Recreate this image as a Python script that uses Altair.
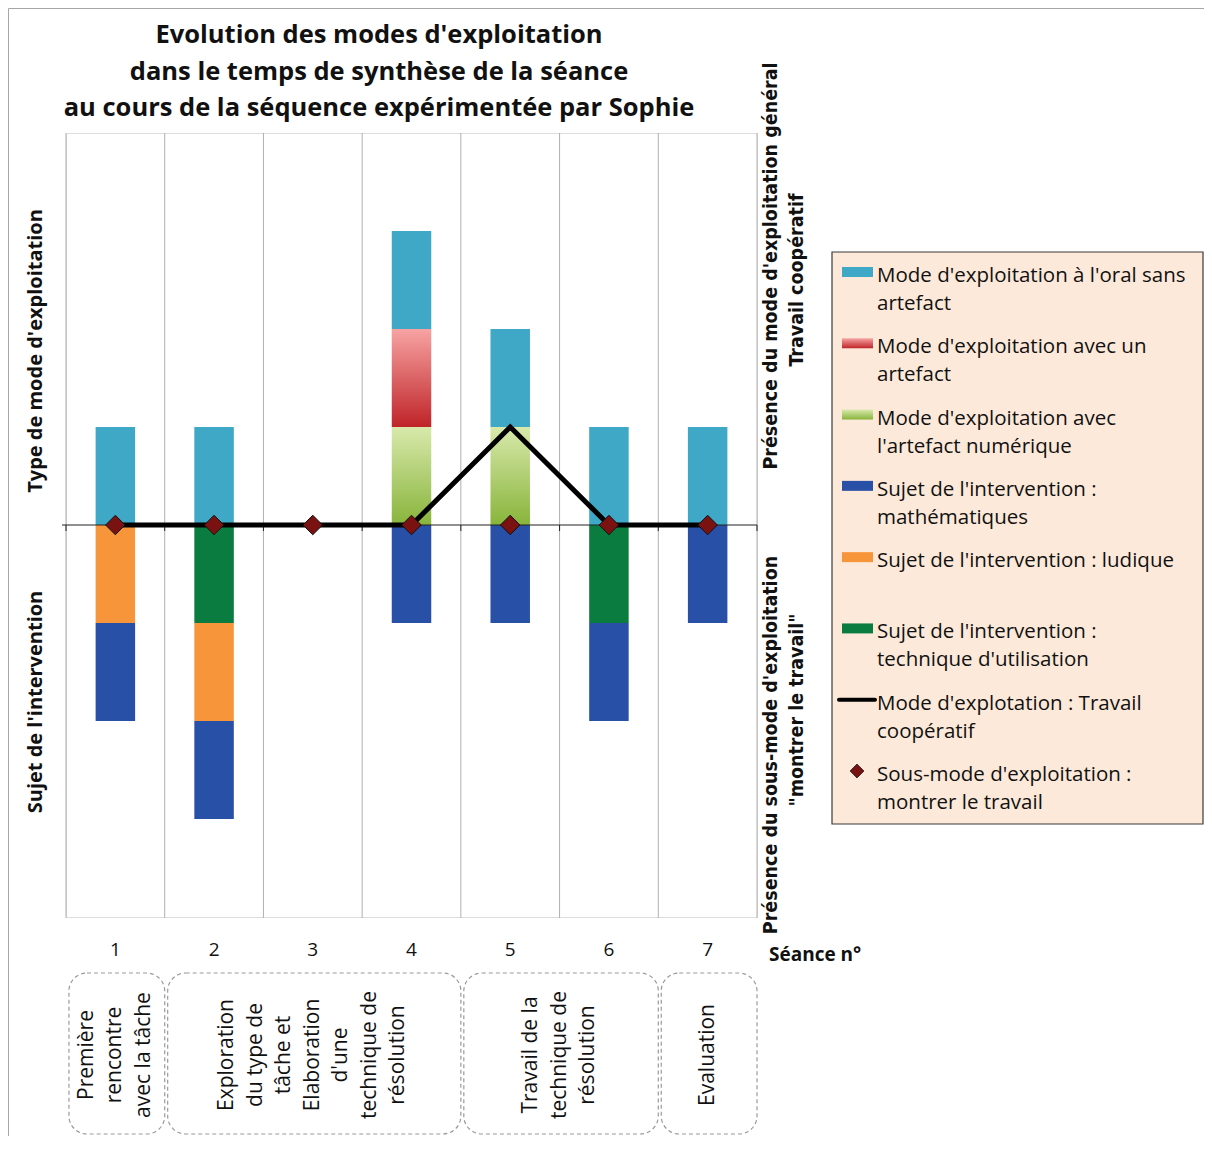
import altair as alt
import pandas as pd

# ---------------- data ----------------
seances = [1, 2, 3, 4, 5, 6, 7]
seance_labels = ["1", "2", "3", "4", "5", "6", "7"]

# Type de mode d'exploitation (stacked upward from 0, in this order)
mode_numerique = [0, 0, 0, 1, 1, 0, 0]   # avec l'artefact numérique
mode_artefact = [0, 0, 0, 1, 0, 0, 0]    # avec un artefact
mode_oral = [1, 1, 0, 1, 1, 1, 1]        # à l'oral sans artefact

# Sujet de l'intervention (stacked downward from 0, in this order)
sujet_technique = [0, 1, 0, 0, 0, 1, 0]
sujet_ludique = [1, 1, 0, 0, 0, 0, 0]
sujet_maths = [1, 1, 0, 1, 1, 1, 1]

travail_cooperatif = [0, 0, 0, 0, 1, 0, 0]
montrer_travail = [0, 0, 0, 0, 0, 0, 0]

phase_labels = [
    ["Première", "rencontre", "avec la tâche"],
    ["Exploration", "du type de", "tâche et", "Elaboration", "d'une", "technique de", "résolution"],
    ["Travail de la", "technique de", "résolution"],
    ["Evaluation"],
]
phase_start = [1, 2, 5, 7]
phase_end = [1, 4, 6, 7]

legend_line1 = [
    "Mode d'exploitation à l'oral sans",
    "Mode d'exploitation avec un",
    "Mode d'exploitation avec",
    "Sujet de l'intervention :",
    "Sujet de l'intervention : ludique",
    "Sujet de l'intervention :",
    "Mode d'explotation : Travail",
    "Sous-mode d'exploitation :",
]
legend_line2 = [
    "artefact",
    "artefact",
    "l'artefact numérique",
    "mathématiques",
    "",
    "technique d'utilisation",
    "coopératif",
    "montrer le travail",
]

title_lines = [
    "Evolution des modes d'exploitation",
    "dans le temps de synthèse de la séance",
    "au cours de la séquence expérimentée par Sophie",
]

# ---------------- styles ----------------
FONT = "Open Sans"
COND = "DejaVu Sans Condensed"
CYAN = "#3ea8c6"
BLUE = "#2750a6"
ORANGE = "#f7953a"
DKGREEN = "#0b7c3f"
RED_GRAD = alt.LinearGradient(
    gradient="linear",
    stops=[alt.GradientStop(color="#f7a3a3", offset=0),
           alt.GradientStop(color="#bf2428", offset=1)],
    x1=0, x2=0, y1=0, y2=1)
GREEN_GRAD = alt.LinearGradient(
    gradient="linear",
    stops=[alt.GradientStop(color="#d8e9ab", offset=0),
           alt.GradientStop(color="#88b43b", offset=1)],
    x1=0, x2=0, y1=0, y2=1)

W, H = 691, 784
STEP = W / len(seances)
XS = alt.Scale(domain=[0.5, 7.5], nice=False, zero=False)
YS = alt.Scale(domain=[-4, 4], nice=False, zero=False)
LS = alt.Scale(domain=[0, 7], range=[139, 638], nice=False, zero=False)

one = pd.DataFrame({"k": [0]})


def stack(series_list, sign):
    cum = [0] * len(seances)
    out = []
    for vals in series_list:
        rows = [{"s": s, "y0": sign * c, "y1": sign * (c + v)}
                for s, v, c in zip(seances, vals, cum) if v]
        cum = [c + v for c, v in zip(cum, vals)]
        out.append(pd.DataFrame(rows))
    return out


up = stack([mode_numerique, mode_artefact, mode_oral], 1)
down = stack([sujet_technique, sujet_ludique, sujet_maths], -1)
bar_specs = list(zip(up, [GREEN_GRAD, RED_GRAD, CYAN])) + \
    list(zip(down, [DKGREEN, ORANGE, BLUE]))

layers = []

# frame around the figure
layers.append(alt.Chart(one).mark_rect(fill="white", fillOpacity=0, stroke="#a6a6a6", strokeWidth=1).encode(
    x=alt.value(-57.5), x2=alt.value(1200), y=alt.value(-124.5), y2=alt.value(1030)))

# vertical separators
bounds = pd.DataFrame({"b": [s - 0.5 for s in seances] + [seances[-1] + 0.5]})
layers.append(alt.Chart(bounds).mark_rule(color="#b0b0b0", strokeWidth=1).encode(
    x=alt.X("b:Q", scale=XS, axis=None), y=alt.value(0), y2=alt.value(785)))

# bars
for df, col in bar_specs:
    if len(df) == 0:
        continue
    layers.append(alt.Chart(df).transform_calculate(
        x0="datum.s - 0.2", x1="datum.s + 0.2").mark_bar(color=col).encode(
        x=alt.X("x0:Q", scale=XS, axis=None), x2="x1:Q",
        y=alt.Y("y0:Q", scale=YS, axis=None), y2="y1:Q"))

# zero line + ticks
layers.append(alt.Chart(one).mark_rule(color="#222", strokeWidth=1).encode(
    x=alt.value(-4), x2=alt.value(W), y=alt.YDatum(0, scale=YS, axis=None)))
layers.append(alt.Chart(bounds).mark_rule(color="#222", strokeWidth=1).encode(
    x=alt.X("b:Q", scale=XS, axis=None), y=alt.value(392), y2=alt.value(398)))

# line series and diamonds
ldf = pd.DataFrame({"s": seances, "v": travail_cooperatif})
layers.append(alt.Chart(ldf).mark_line(color="black", strokeWidth=5, strokeJoin="miter").encode(
    x=alt.X("s:Q", scale=XS, axis=None), y=alt.Y("v:Q", scale=YS, axis=None)))
pdf = pd.DataFrame({"s": seances, "v": montrer_travail})
layers.append(alt.Chart(pdf).mark_point(shape="diamond", filled=True, fill="#7a1212", stroke="#111",
                                        strokeWidth=1, size=380, opacity=1).encode(
    x=alt.X("s:Q", scale=XS, axis=None), y=alt.Y("v:Q", scale=YS, axis=None)))

# x labels
xl = pd.DataFrame({"s": seances, "lab": seance_labels})
layers.append(alt.Chart(xl).mark_text(font=FONT, fontSize=19, color="#111", baseline="middle").encode(
    x=alt.X("s:Q", scale=XS, axis=None), y=alt.value(817), text="lab:N"))

# phase boxes
ph = pd.DataFrame({"st": phase_start, "en": phase_end})
layers.append(alt.Chart(ph).transform_calculate(
    bx0="datum.st - 0.47", bx1="datum.en + 0.5").mark_rect(
    fill="white", fillOpacity=0, stroke="#9a9a9a", strokeWidth=1.2, strokeDash=[4, 3], cornerRadius=18).encode(
    x=alt.X("bx0:Q", scale=XS, axis=None), x2="bx1:Q", y=alt.value(840), y2=alt.value(1001)))

LINE_H = 28.5
prow = []
for st, en, lines in zip(phase_start, phase_end, phase_labels):
    for k, t in enumerate(lines):
        prow.append({"c": (st + en) / 2, "k": k, "n": len(lines), "t": t})
pl = pd.DataFrame(prow)
layers.append(alt.Chart(pl).transform_calculate(
    xx=f"datum.c + (datum.k - (datum.n - 1) / 2) * {LINE_H / STEP}").mark_text(
    font=FONT, fontSize=21, color="#111", angle=270, align="center", baseline="middle").encode(
    x=alt.X("xx:Q", scale=XS, axis=None), y=alt.value(922), text="t:N"))


def txt(text, x, y, size, bold=False, angle=0, font=FONT, align="center", lh=None):
    kw = dict(text=text, font=font, fontSize=size, fontWeight="bold" if bold else "normal",
              angle=angle, align=align, baseline="middle", color="#111")
    if lh:
        kw["lineHeight"] = lh
    return alt.Chart(one).mark_text(**kw).encode(x=alt.value(x), y=alt.value(y))


layers.append(txt(title_lines, 313, -98, 25.5, bold=True, lh=36.5))
layers.append(txt("Type de mode d'exploitation", -30, 218, 20, bold=True, angle=270))
layers.append(txt("Sujet de l'intervention", -30, 569, 20, bold=True, angle=270))
layers.append(txt("Présence du mode d'exploitation général", 705, 133, 19.5, bold=True, angle=270, font=COND))
layers.append(txt("Travail coopératif", 731, 147, 19.5, bold=True, angle=270, font=COND))
layers.append(txt("Présence du sous-mode d'exploitation", 705, 612, 19.5, bold=True, angle=270, font=COND))
layers.append(txt("\"montrer le travail\"", 731, 577, 19.5, bold=True, angle=270, font=COND))
layers.append(txt("Séance n°", 703, 822, 19, bold=True, align="left"))

# ---------------- legend ----------------
layers.append(alt.Chart(one).mark_rect(fill="#fde9d9", stroke="#3a3a3a", strokeWidth=1.2).encode(
    x=alt.value(766), x2=alt.value(1137), y=alt.value(119), y2=alt.value(691)))

leg = pd.DataFrame({"i": list(range(8)), "l1": legend_line1, "l2": legend_line2})
sw_cols = {0: CYAN, 1: RED_GRAD, 2: GREEN_GRAD, 3: BLUE, 4: ORANGE, 5: DKGREEN}
for i, col in sw_cols.items():
    layers.append(alt.Chart(leg).transform_filter(f"datum.i == {i}").transform_calculate(
        ya="datum.i - 0.07", yb="datum.i + 0.07").mark_rect(color=col).encode(
        x=alt.value(776), x2=alt.value(807), y=alt.Y("ya:Q", scale=LS, axis=None), y2="yb:Q"))
layers.append(alt.Chart(leg).transform_filter("datum.i == 6").mark_rule(
    color="black", strokeWidth=4, strokeCap="round").encode(
    x=alt.value(773), x2=alt.value(809), y=alt.Y("i:Q", scale=LS, axis=None)))
layers.append(alt.Chart(leg).transform_filter("datum.i == 7").mark_point(
    shape="diamond", filled=True, fill="#7a1212", stroke="#111", strokeWidth=0.8, size=190, opacity=1).encode(
    x=alt.value(791), y=alt.Y("i:Q", scale=LS, axis=None)))
layers.append(alt.Chart(leg).mark_text(font=FONT, fontSize=20.5, color="#111", align="left",
                                       baseline="middle", dy=4).encode(
    x=alt.value(811), y=alt.Y("i:Q", scale=LS, axis=None), text="l1:N"))
layers.append(alt.Chart(leg).mark_text(font=FONT, fontSize=20.5, color="#111", align="left",
                                       baseline="middle", dy=32).encode(
    x=alt.value(811), y=alt.Y("i:Q", scale=LS, axis=None), text="l2:N"))

chart = alt.layer(*layers).resolve_scale(y="independent").properties(
    width=W, height=H,
    autosize=alt.AutoSizeParams(type="none"),
    padding={"left": 58, "top": 125, "right": 447, "bottom": 219},
).configure_view(stroke=None).configure(font=FONT)

chart.save("out.html", embed_options={"renderer": "svg", "actions": False})
